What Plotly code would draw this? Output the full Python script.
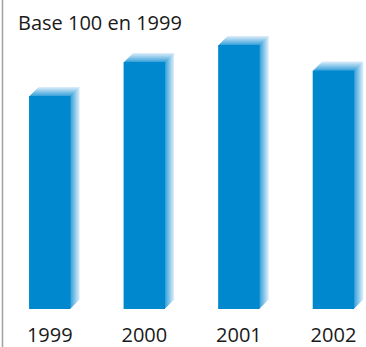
import plotly.graph_objects as go

years = ["1999", "2000", "2001", "2002"]
values = [100, 116, 124, 112]

W, H = 366, 347
front_color = (0, 136, 207)
light_color = (214, 234, 249)

# geometry (pixel based style values converted to data units)
px_per_x = 94.55
px_per_y = 2.13
x0 = -49.8 / px_per_x
x1 = x0 + W / px_per_x
plot_h = 309
y1 = plot_h / px_per_y
bar_w = 41.5 / px_per_x
n_depth = 9
dx = 1 / px_per_x
dy = 1 / px_per_y

xs = list(range(len(years)))

def mix(t):
    return "rgb(%d,%d,%d)" % tuple(round(a + (b - a) * t) for a, b in zip(front_color, light_color))

fig = go.Figure()
for k in range(n_depth, -1, -1):
    if k == 0:
        col = mix(0)
    else:
        col = mix(0.3 + 0.7 * (k - 1) / (n_depth - 1))
    fig.add_trace(go.Bar(
        x=xs, y=values, base=[k * dy] * len(xs),
        width=bar_w, offset=-bar_w / 2 + k * dx,
        marker=dict(color=col, line=dict(width=0)),
        hoverinfo="skip", showlegend=False,
    ))

fig.update_layout(
    width=W, height=H,
    margin=dict(l=0, r=0, t=0, b=H - plot_h),
    paper_bgcolor="white", plot_bgcolor="white",
    barmode="overlay",
    xaxis=dict(range=[x0, x1], tickmode="array", tickvals=xs, ticktext=years,
               showgrid=False, zeroline=False, showline=False,
               ticks="outside", ticklen=8, tickcolor="rgba(0,0,0,0)",
               tickfont=dict(family="Open Sans", size=20, color="#1a1a1a")),
    yaxis=dict(range=[0, y1], visible=False),
    font=dict(family="Open Sans"),
    annotations=[dict(text="Base 100 en 1999", xref="paper", yref="paper",
                      x=16 / W, y=1 - 22 / plot_h, xanchor="left", yanchor="middle",
                      showarrow=False, font=dict(size=20, color="#1a1a1a"))],
    shapes=[dict(type="line", xref="paper", yref="paper",
                 x0=2.5 / W, x1=2.5 / W, y0=-(H - plot_h) / plot_h, y1=1,
                 line=dict(color="#a0a0a0", width=1.5))],
)

fig.write_html("out.html")
